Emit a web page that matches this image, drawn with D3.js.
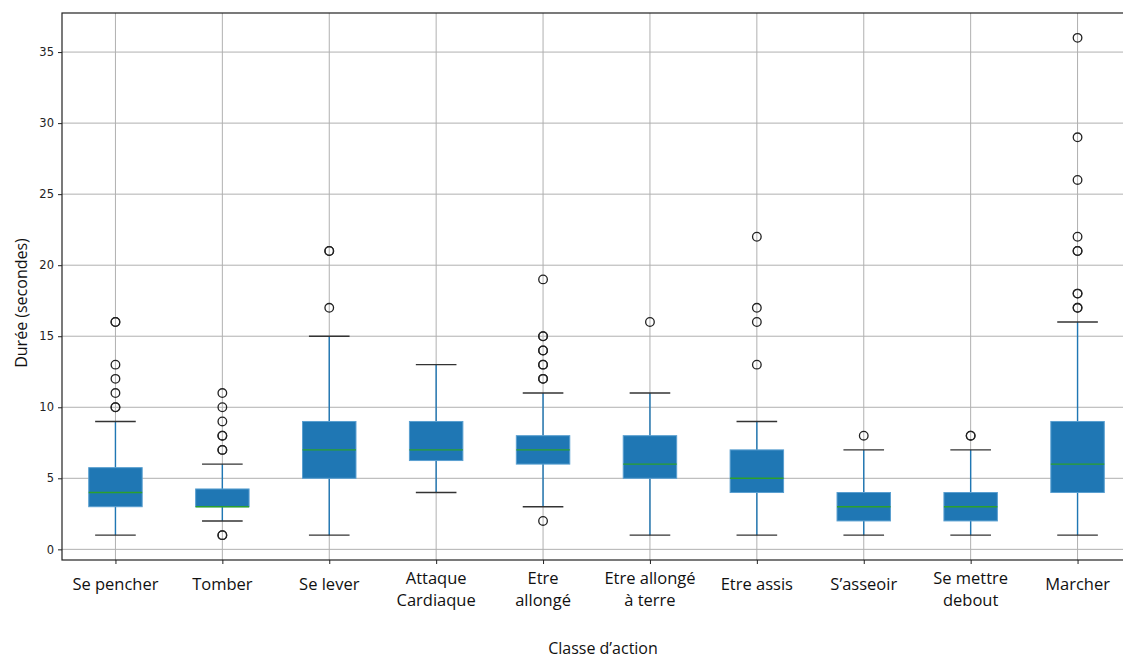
<!DOCTYPE html>
<html>
<head>
<meta charset="utf-8">
<script src="https://cdn.jsdelivr.net/npm/d3@7"></script>
<style>
  body { margin: 0; background: #fff; }
  svg { display: block; }
</style>
</head>
<body>
<svg id="chart" width="1123" height="659"></svg>
<script>
// categories and box statistics
var categories = ['Se pencher', 'Tomber', 'Se lever', 'Attaque\nCardiaque', 'Etre\nallongé',
                  'Etre allongé\nà terre', 'Etre assis', 'S’asseoir', 'Se mettre\ndebout', 'Marcher'];
var whiskerLow  = [1, 2, 1, 4, 3, 1, 1, 1, 1, 1];
var quart1      = [3, 3, 5, 6.25, 6, 5, 4, 2, 2, 4];
var medians     = [4, 3, 7, 7, 7, 6, 5, 3, 3, 6];
var quart3      = [5.75, 4.25, 9, 9, 8, 8, 7, 4, 4, 9];
var whiskerHigh = [9, 6, 15, 13, 11, 11, 9, 7, 7, 16];
var outliers = [
  [10, 10, 11, 12, 13, 16, 16],
  [1, 1, 7, 7, 8, 8, 9, 10, 11],
  [17, 21, 21],
  [],
  [2, 12, 12, 13, 13, 14, 14, 15, 15, 19],
  [16],
  [13, 16, 17, 22],
  [8],
  [8, 8],
  [17, 17, 18, 18, 21, 21, 22, 26, 29, 36]
];
var yTicks = [0, 5, 10, 15, 20, 25, 30, 35];

var svg = d3.select('#chart');
var plotLeft = 62, plotTop = 13, plotBottom = 560;
var step = 106.9;
var plotRight = plotLeft + step * 10;

var x = d3.scaleLinear().domain([0.5, 10.5]).range([plotLeft, plotRight]);
var y = d3.scaleLinear().domain([-0.75, 37.75]).range([plotBottom, plotTop]);

var blue = '#1f77b4';

// grid
svg.append('g').selectAll('line').data(yTicks).join('line')
  .attr('x1', plotLeft).attr('x2', plotRight)
  .attr('y1', function(d) { return y(d); }).attr('y2', function(d) { return y(d); })
  .attr('stroke', '#b0b0b0').attr('stroke-width', 1);
svg.append('g').selectAll('line').data(categories).join('line')
  .attr('x1', function(d, i) { return x(i + 1); }).attr('x2', function(d, i) { return x(i + 1); })
  .attr('y1', plotTop).attr('y2', plotBottom)
  .attr('stroke', '#b0b0b0').attr('stroke-width', 1);

var boxes = svg.append('g').selectAll('g').data(categories).join('g');

// whiskers
boxes.append('line')
  .attr('x1', function(d, i) { return x(i + 1); }).attr('x2', function(d, i) { return x(i + 1); })
  .attr('y1', function(d, i) { return y(whiskerLow[i]); }).attr('y2', function(d, i) { return y(quart1[i]); })
  .attr('stroke', blue).attr('stroke-width', 1.4);
boxes.append('line')
  .attr('x1', function(d, i) { return x(i + 1); }).attr('x2', function(d, i) { return x(i + 1); })
  .attr('y1', function(d, i) { return y(whiskerHigh[i]); }).attr('y2', function(d, i) { return y(quart3[i]); })
  .attr('stroke', blue).attr('stroke-width', 1.4);

// caps
[whiskerLow, whiskerHigh].forEach(function(arr) {
  boxes.append('line')
    .attr('x1', function(d, i) { return x(i + 1 - 0.19); }).attr('x2', function(d, i) { return x(i + 1 + 0.19); })
    .attr('y1', function(d, i) { return y(arr[i]); }).attr('y2', function(d, i) { return y(arr[i]); })
    .attr('stroke', '#333').attr('stroke-width', 1.4);
});

// boxes
boxes.append('rect')
  .attr('x', function(d, i) { return x(i + 1 - 0.25); })
  .attr('width', x(1.5) - x(1))
  .attr('y', function(d, i) { return y(quart3[i]); })
  .attr('height', function(d, i) { return y(quart1[i]) - y(quart3[i]); })
  .attr('fill', blue).attr('stroke', '#5a9fd0').attr('stroke-width', 1);

// medians
boxes.append('line')
  .attr('x1', function(d, i) { return x(i + 1 - 0.25); }).attr('x2', function(d, i) { return x(i + 1 + 0.25); })
  .attr('y1', function(d, i) { return y(medians[i]); }).attr('y2', function(d, i) { return y(medians[i]); })
  .attr('stroke', '#2ca02c').attr('stroke-width', 1.4);

// fliers
boxes.selectAll('circle').data(function(d, i) { return outliers[i].map(function(v) { return [i, v]; }); })
  .join('circle')
  .attr('cx', function(d) { return x(d[0] + 1); })
  .attr('cy', function(d) { return y(d[1]); })
  .attr('r', 4.3)
  .attr('fill', 'none').attr('stroke', '#222').attr('stroke-width', 1.3);

// frame
svg.append('rect')
  .attr('x', plotLeft).attr('y', plotTop).attr('width', plotRight - plotLeft).attr('height', plotBottom - plotTop)
  .attr('fill', 'none').attr('stroke', '#222').attr('stroke-width', 1.2);

// y axis
var yAxis = svg.append('g').attr('transform', 'translate(' + plotLeft + ',0)')
  .call(d3.axisLeft(y).tickValues(yTicks).tickSize(4).tickPadding(4));
yAxis.select('.domain').remove();
yAxis.selectAll('text').attr('font-family', 'DejaVu Sans').attr('font-size', '11.5px').attr('fill', '#222');
yAxis.selectAll('line').attr('stroke', '#222');

// x ticks
var xAxis = svg.append('g').attr('transform', 'translate(0,' + plotBottom + ')')
  .call(d3.axisBottom(x).tickValues(d3.range(1, 11)).tickSize(4).tickFormat(''));
xAxis.select('.domain').remove();
xAxis.selectAll('line').attr('stroke', '#222');

// x tick labels (multi-line)
var labels = svg.append('g').selectAll('text').data(categories).join('text')
  .attr('x', function(d, i) { return x(i + 1); })
  .attr('text-anchor', 'middle')
  .attr('font-family', 'Open Sans')
  .attr('font-size', '16.5px')
  .attr('fill', '#111');
labels.each(function(d) {
  var lines = d.split('\n');
  var t = d3.select(this);
  var y0 = lines.length === 1 ? 590 : 584;
  lines.forEach(function(s, k) {
    t.append('tspan').attr('x', t.attr('x')).attr('y', y0 + k * 22).text(s);
  });
});

// axis titles
svg.append('text')
  .attr('transform', 'translate(27,303) rotate(-90)')
  .attr('text-anchor', 'middle')
  .attr('font-family', 'Open Sans').attr('font-size', '16px').attr('fill', '#111')
  .text('Durée (secondes)');
svg.append('text')
  .attr('x', 603).attr('y', 654)
  .attr('text-anchor', 'middle')
  .attr('font-family', 'Open Sans').attr('font-size', '16px').attr('fill', '#111')
  .text('Classe d’action');
</script>
</body>
</html>
